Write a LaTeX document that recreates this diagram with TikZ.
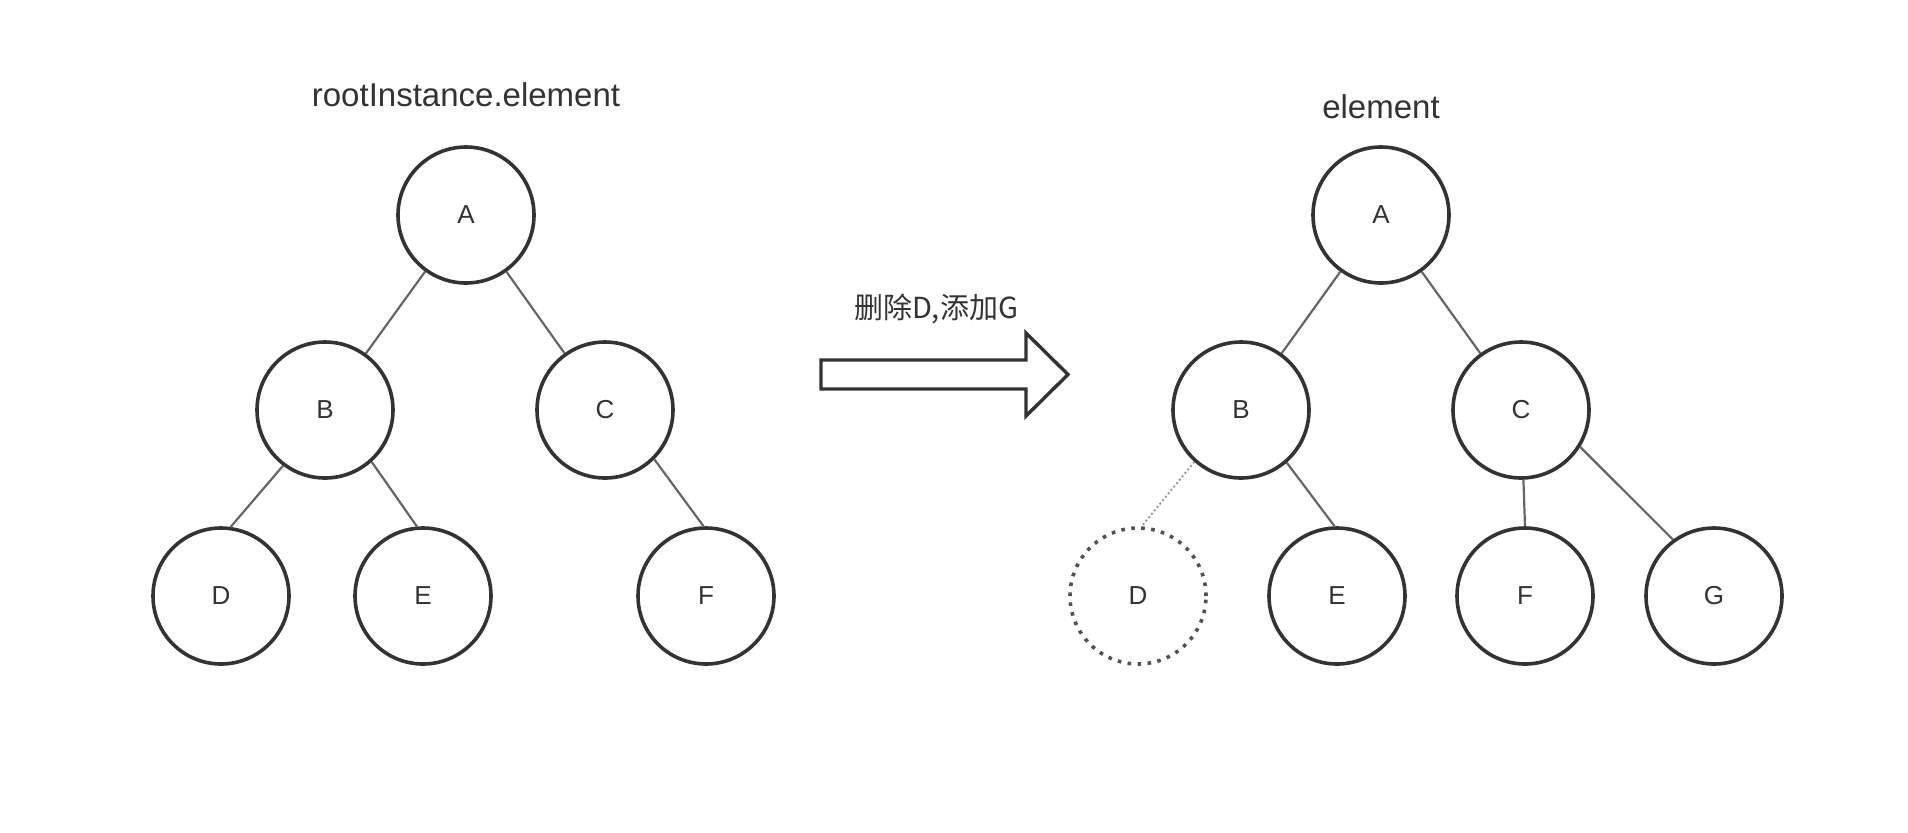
\documentclass[tikz,border=0pt]{standalone}
\usepackage{fontspec}
\setmainfont{Liberation Sans}
\newfontfamily\cjk{Noto Sans CJK SC}
\definecolor{ink}{HTML}{333333}
\definecolor{link}{HTML}{666666}
\begin{document}
\begin{tikzpicture}[x=0.5pt, y=-0.5pt,
        vertex/.style={circle, draw=ink, line width=1.8pt, minimum size=68pt, inner sep=0pt, text=ink, font=\fontsize{13}{15}\selectfont},
        ghost/.style={vertex, draw=ink!85, line width=1.8pt, dash pattern=on 1.8pt off 3.2pt},
        edge/.style={link, line width=1.1pt},
        gone/.style={edge, draw=link!70, line width=0.9pt, dash pattern=on 1pt off 1.2pt},
        title/.style={text=ink, font=\fontsize{16.5}{19}\selectfont}
    ]
    \useasboundingbox (0,0) rectangle (1908,832);
    % Before
    \node[title] (T1) at (466,95) {rootInstance.element};
    \node[vertex] (A1) at (466,215) {A};
    \node[vertex] (B1) at (325,410) {B};
    \node[vertex] (C1) at (605,410) {C};
    \node[vertex] (D1) at (221,596) {D};
    \node[vertex] (E1) at (423,596) {E};
    \node[vertex] (F1) at (706,596) {F};
    \draw[edge] (A1) -- (B1);
    \draw[edge] (A1) -- (C1);
    \draw[edge] (B1.233) -- (D1.82);
    \draw[edge] (B1.312) -- (E1.95);
    \draw[edge] (C1.315) -- (F1.92);
    % Change
    \node[font=\cjk\fontsize{14.5}{17}\selectfont, text=ink] (L) at (936,309) {删除D,添加G};
    \draw[ink, line width=1.7pt, line join=miter]
        (821,360) -- (1026,360) -- (1026,333) -- (1068,374.5) -- (1026,416) -- (1026,389) -- (821,389) -- cycle;
    % After
    \node[title] (T2) at (1381,107) {element};
    \node[vertex] (A2) at (1381,215) {A};
    \node[vertex] (B2) at (1241,410) {B};
    \node[vertex] (C2) at (1521,410) {C};
    \node[ghost] (D2) at (1138,596) {D};
    \node[vertex] (E2) at (1337,596) {E};
    \node[vertex] (F2) at (1525,596) {F};
    \node[vertex] (G2) at (1714,596) {G};
    \draw[edge] (A2) -- (B2);
    \draw[edge] (A2) -- (C2);
    \draw[gone] (B2.228) -- (D2.87);
    \draw[edge] (B2.311) -- (E2.92);
    \draw[edge] (C2.272) -- (F2.90);
    \draw[edge] (C2.328) -- (G2.126);
\end{tikzpicture}
\end{document}
